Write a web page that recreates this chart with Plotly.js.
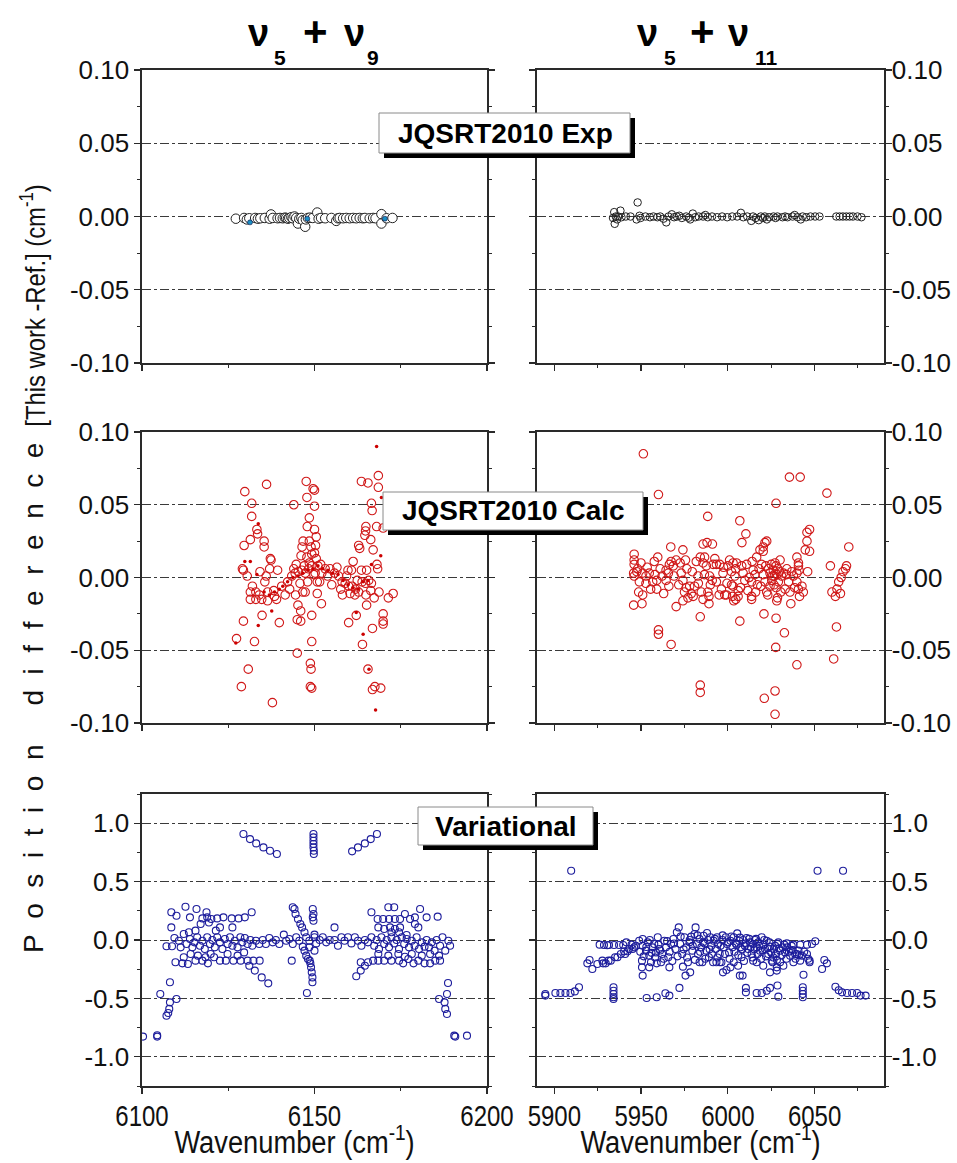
<!DOCTYPE html>
<html>
<head>
<meta charset="utf-8">
<script src="https://cdn.plot.ly/plotly-3.0.1.min.js"></script>
<style>html,body{margin:0;padding:0;background:#fff;}</style>
</head>
<body>
<div id="chart" style="width:957px;height:1163px;"></div>
<script>
// ---------------- DATA (wavenumber cm-1, difference cm-1) ----------------
const expLeft = [[6127.2,-0.0015],[6129.6,-0.001],[6130.4,-0.002],[6131.1,-0.0012],[6132.8,-0.001],[6133.6,-0.0015],[6134.3,-0.0012],[6135.6,-0.001],[6137.0,-0.0015],[6137.4,0.0014],[6137.9,-0.001],[6139.3,-0.0012],[6140.0,-0.001],[6140.8,-0.0012],[6141.4,-0.0008],[6141.8,-0.001],[6142.3,-0.0015],[6142.7,-0.001],[6143.3,-0.0005],[6143.7,-0.0012],[6144.2,0.0],[6144.7,-0.001],[6145.2,-0.0048],[6145.6,-0.0015],[6146.2,-0.001],[6146.6,-0.0025],[6147.3,-0.007],[6147.5,-0.002],[6148.1,-0.001],[6148.7,-0.0008],[6149.5,-0.001],[6150.8,0.0027],[6151.2,-0.0015],[6151.9,-0.001],[6153.1,-0.0012],[6154.9,-0.001],[6156.3,-0.003],[6156.8,-0.0012],[6157.3,-0.001],[6158.3,-0.0012],[6159.2,-0.001],[6160.2,-0.0012],[6161.2,-0.001],[6162.1,-0.0012],[6163.1,-0.001],[6164.0,-0.0012],[6164.6,-0.001],[6166.0,-0.0012],[6167.0,-0.001],[6167.7,-0.0012],[6169.4,0.0016],[6169.4,-0.0048],[6170.9,-0.0012],[6172.6,-0.001]];
const expLeftBlue = [[6131.3,-0.004],[6147.9,-0.0015],[6170.4,-0.0015]];
const expRight = [[5933.8,-0.001],[5934.5,0.003],[5934.8,-0.005],[5935.4,0.0],[5936.2,-0.002],[5936.8,0.0],[5938.1,0.004],[5938.7,-0.0005],[5941.2,0.0],[5943.9,0.0],[5947.4,-0.002],[5948.0,0.0096],[5949.1,0.0005],[5949.7,-0.001],[5952.5,0.0],[5955.1,-0.0005],[5957.1,0.0],[5959.4,-0.0005],[5961.0,0.0],[5962.9,-0.0015],[5964.5,-0.004],[5965.8,0.0],[5967.7,0.0015],[5969.0,-0.0005],[5970.6,0.0],[5972.0,0.0005],[5973.5,-0.001],[5976.0,0.0],[5977.5,-0.0008],[5978.3,-0.002],[5979.8,0.002],[5981.2,-0.0005],[5983.2,0.0],[5985.7,0.0],[5987.0,0.001],[5988.4,-0.0005],[5990.9,0.0],[5993.8,-0.0005],[5996.7,0.0],[5999.6,-0.0005],[6002.5,0.0],[6005.4,0.0],[6007.5,0.0025],[6008.9,-0.0005],[6011.2,0.0],[6013.5,-0.003],[6014.5,0.0],[6016.1,-0.001],[6017.8,-0.0025],[6019.0,0.0],[6020.2,-0.001],[6021.3,0.0],[6022.5,-0.002],[6023.8,-0.0005],[6026.3,0.0],[6027.5,-0.001],[6028.6,0.0],[6031.5,-0.0005],[6033.0,0.0],[6034.4,-0.0005],[6037.3,0.0],[6038.5,0.001],[6040.2,-0.0005],[6042.0,-0.002],[6043.1,0.0],[6045.1,-0.0005],[6047.6,0.0],[6050.3,0.0],[6052.8,0.0],[6062.5,0.0],[6064.4,0.0],[6066.3,0.0],[6068.3,0.0],[6070.2,0.0],[6072.1,0.0],[6074.7,0.0],[6077.0,-0.0005]];

const calcLeftOpen = [[6129.8,0.059],[6136.1,0.064],[6131.8,0.051],[6131.8,0.042],[6133.3,0.033],[6133.5,0.030],[6131.4,0.026],[6129.6,0.022],[6135.4,0.025],[6135.4,0.021],[6137.2,0.013],[6137.4,0.012],[6129.1,0.006],[6129.4,0.005],[6134.2,0.004],[6135.6,-0.003],[6137.0,0.006],[6139.3,0.005],[6131.4,-0.010],[6131.4,-0.015],[6133.0,-0.010],[6133.0,-0.015],[6134.7,-0.015],[6136.4,-0.016],[6136.4,-0.010],[6138.2,-0.009],[6138.4,-0.013],[6134.8,-0.026],[6129.4,-0.030],[6139.8,-0.031],[6127.4,-0.042],[6132.6,-0.044],[6130.8,-0.063],[6128.8,-0.075],[6137.8,-0.086],
[6141.5,-0.012],[6142.2,-0.003],[6143.4,0.001],[6144.4,0.003],[6145.3,0.004],[6146.3,0.005],[6147.3,0.003],[6148.3,0.006],[6149.2,0.008],[6150.2,0.003],[6150.8,-0.003],[6151.5,-0.003],[6152.1,0.003],[6153.1,0.006],[6154.5,0.006],[6155.8,0.003],[6157.0,0.001],[6158.0,-0.003],[6158.9,-0.004],[6159.9,-0.006],[6160.9,-0.006],[6161.9,-0.008],[6162.8,-0.010],[6163.8,-0.003],[6164.8,-0.004],[6165.7,-0.002],
[6147.6,0.066],[6147.8,0.055],[6149.6,0.061],[6150.0,0.060],[6150.0,0.049],[6144.0,0.050],[6148.5,0.041],[6147.9,0.035],[6148.5,0.025],[6149.0,0.021],[6150.0,0.033],[6150.5,0.028],[6150.3,0.022],[6150.0,0.017],[6149.2,0.016],[6146.7,0.025],[6146.4,0.021],[6146.1,0.015],[6144.7,0.009],[6144.5,-0.012],[6145.2,-0.019],[6146.0,-0.023],[6145.0,-0.029],[6146.0,-0.030],[6149.2,-0.026],[6149.2,-0.044],[6145.0,-0.052],[6148.8,-0.059],[6149.0,-0.063],[6148.8,-0.075],[6149.2,-0.076],[6150.8,-0.011],[6152.0,-0.018],[6147.3,-0.010],[6146.6,-0.010],[6147.8,0.014],[6150.5,0.013],[6148.5,0.010],[6151.0,0.008],
[6163.6,0.066],[6165.5,0.065],[6168.5,0.070],[6168.5,0.062],[6166.5,0.051],[6166.7,0.046],[6164.9,0.035],[6164.8,0.032],[6164.6,0.029],[6166.3,0.026],[6167.0,0.019],[6162.8,0.022],[6163.1,0.020],[6168.0,0.035],[6169.9,0.034],[6161.2,0.011],[6159.7,0.005],[6163.6,0.005],[6165.1,0.005],[6168.1,0.009],[6168.3,0.006],[6168.7,-0.010],[6167.3,-0.014],[6166.5,-0.004],[6164.9,-0.012],[6165.1,-0.019],[6166.3,-0.009],[6171.4,-0.014],[6172.8,-0.011],[6169.9,-0.025],[6169.9,-0.030],[6169.9,-0.032],[6162.1,-0.026],[6159.9,-0.031],[6163.9,-0.046],[6165.5,-0.063],[6166.8,-0.035],[6166.8,-0.077],[6167.5,-0.075],[6169.2,-0.076],[6158.1,-0.012],[6161.7,-0.012],[6160.7,0.005],
[6140.5,-0.006],[6142.8,-0.008],[6144.0,0.006],[6145.8,-0.004],[6147.0,0.008],[6148.0,-0.003],[6149.8,0.002],[6151.8,0.009],[6153.8,0.001],[6155.0,-0.005],[6156.5,0.007],[6157.6,-0.008],[6159.3,0.001],[6160.3,-0.011],[6162.4,-0.002],[6134.0,-0.012],[6132.0,-0.006],[6130.5,0.001],[6136.0,0.001],[6139.0,-0.015]];
const calcLeftDots = [[6168.0,0.090],[6167.7,-0.091],[6169.4,0.055],[6169.2,0.015],[6133.7,0.037],[6129.8,0.011],[6131.4,0.011],[6133.3,0.002],[6137.6,-0.023],[6133.7,-0.033],[6127.2,-0.045],[6164.1,-0.039],[6162.1,-0.024],[6165.8,-0.063],[6166.5,0.009],[6135.4,-0.010],[6136.9,-0.012],[6138.4,-0.010],[6139.8,-0.008],[6140.8,-0.006],[6142.2,-0.003],[6143.7,0.000],[6145.2,0.001],[6146.6,0.003],[6148.1,0.005],[6149.5,0.006],[6151.0,0.008],[6152.4,0.006],[6153.9,0.005],[6155.3,0.003],[6156.8,0.002],[6158.3,-0.002],[6159.7,-0.005],[6161.2,-0.007],[6162.6,-0.008],[6164.1,-0.003],[6165.5,-0.002]];
const calcRight = [[5951.3,0.085],[5960.0,0.057],[6035.5,0.069],[6041.7,0.069],[6057.1,0.058],[6027.8,0.051],[5988.4,0.042],[6006.9,0.039],[6010.4,0.030],[6008.1,0.024],[6047.1,0.033],[6045.6,0.031],[6045.6,0.025],[6044.6,0.019],[6047.1,0.018],[6069.7,0.021],[5967.1,0.021],[5974.1,0.019],[5946.0,0.016],[5946.0,0.012],[5946.0,0.009],[5945.7,0.003],[5946.0,0.001],[5949.9,0.010],[5948.0,0.006],[5950.9,0.003],[5952.8,-0.004],[5952.8,0.001],[5950.9,-0.012],[5948.6,-0.010],[5945.7,-0.019],[5950.5,-0.018],[5959.6,0.014],[5957.6,0.011],[5959.0,-0.002],[5959.0,-0.008],[5960.0,-0.036],[5960.0,-0.039],[5967.3,-0.046],[5964.4,0.005],[5966.3,0.009],[5965.7,0.003],[5964.4,-0.002],[5967.3,0.011],[5970.2,0.012],[5975.6,0.012],[5976.4,0.006],[5974.1,-0.002],[5975.0,-0.010],[5977.0,-0.014],[5970.2,-0.020],[5974.1,-0.016],[5978.9,-0.011],[5980.8,-0.006],[5978.0,-0.006],[5980.0,-0.013],[5984.1,0.014],[5985.7,0.023],[5988.0,0.024],[5991.1,0.023],[5985.7,0.010],[5987.6,0.008],[5989.5,0.001],[5989.9,-0.005],[5989.1,-0.013],[5989.1,-0.018],[5985.7,-0.015],[5984.7,-0.010],[5984.1,-0.027],[5984.1,-0.074],[5984.1,-0.079],[5986.6,0.014],[5991.5,0.009],[5993.4,0.009],[5995.3,0.009],[5997.2,0.003],[5998.2,-0.012],[5999.2,-0.012],[6002.1,0.004],[6003.0,0.010],[6005.0,0.010],[6004.0,0.001],[6003.0,-0.006],[6002.7,-0.013],[6004.6,-0.015],[6005.9,-0.013],[6007.3,-0.007],[6002.1,-0.005],[6003.4,-0.016],[6006.9,-0.030],[6010.8,0.009],[6012.3,0.000],[6013.7,-0.003],[6013.7,-0.013],[6013.7,-0.015],[6014.6,0.005],[6009.8,-0.002],[6016.6,0.014],[6018.5,0.019],[6020.4,0.021],[6021.4,0.024],[6022.4,0.025],[6020.4,0.018],[6019.5,0.009],[6020.4,0.002],[6021.4,-0.003],[6022.4,-0.010],[6020.8,-0.025],[6021.0,-0.083],[6024.3,0.003],[6025.3,-0.002],[6026.2,0.005],[6027.2,0.010],[6027.8,0.008],[6028.2,0.002],[6029.1,-0.003],[6030.1,0.012],[6027.8,-0.007],[6028.6,-0.014],[6028.2,-0.016],[6027.8,-0.028],[6027.6,-0.048],[6027.2,-0.078],[6027.2,-0.094],[6032.0,0.003],[6033.0,-0.008],[6036.3,-0.018],[6032.6,-0.038],[6039.8,0.014],[6040.7,0.010],[6040.7,0.008],[6039.8,0.003],[6039.8,-0.003],[6040.7,-0.008],[6041.3,-0.013],[6039.8,-0.060],[6024.3,-0.006],[6031.0,0.001],[6035.8,-0.010],[6037.8,0.001],[6059.1,0.008],[6060.0,-0.010],[6062.0,-0.013],[6062.9,-0.008],[6063.9,-0.003],[6065.3,0.000],[6066.4,0.004],[6067.8,0.006],[6068.4,0.008],[6062.6,-0.034],[6061.0,-0.056],[5954.7,0.003],[5956.7,-0.003],[5962.1,0.001],[5968.6,0.008],[5971.7,-0.005],[5973.1,0.003],[5981.8,0.011],[5982.8,0.001],[5993.4,-0.003],[5996.3,-0.008],[6000.1,0.008],[6008.8,0.003],[6015.6,0.002],[6017.0,-0.005],[6023.4,0.006],[6025.8,0.001],[6026.6,-0.005],[6029.7,0.004],[6034.0,0.006],[6035.0,-0.003],[6042.7,-0.006],[6064.9,-0.011],
[5947.5,0.004],[5949.0,-0.003],[5953.5,0.007],[5955.5,-0.008],[5958.0,0.002],[5961.0,0.006],[5963.0,-0.011],[5966.0,-0.006],[5969.0,0.001],[5972.5,0.010],[5976.0,-0.007],[5979.5,0.004],[5983.0,-0.004],[5986.5,0.002],[5988.5,-0.010],[5991.0,-0.002],[5992.5,0.013],[5995.0,-0.012],[5997.5,0.007],[5999.5,-0.004],[6001.0,0.012],[6004.5,0.006],[6006.0,-0.009],[6008.0,0.008],[6011.5,-0.009],[6014.0,0.011],[6016.0,-0.010],[6018.0,0.006],[6019.0,-0.006],[6021.8,0.008],[6023.0,-0.012],[6025.0,0.009],[6026.8,0.001],[6028.8,0.006],[6030.5,-0.010],[6033.8,0.002],[6036.8,0.004],[6038.5,-0.007],[6041.0,0.005],[6043.5,-0.010],[6046.0,0.004]];

const varLeft = [[6129.4,0.907],[6131.3,0.864],[6133.1,0.827],[6135.2,0.793],[6137.1,0.764],[6139.1,0.736],[6149.7,0.907],[6149.7,0.879],[6149.7,0.850],[6149.7,0.822],[6149.7,0.793],[6149.8,0.764],[6149.8,0.736],[6160.9,0.759],[6162.6,0.793],[6164.6,0.827],[6166.3,0.864],[6168.1,0.907],
[6100.3,-0.827],[6104.4,-0.827],[6104.4,-0.815],[6105.3,-0.462],[6107.1,-0.648],[6107.6,-0.625],[6107.9,-0.59],[6108.1,-0.534],[6108.1,-0.362],[6110.0,-0.505],[6186.1,-0.505],[6187.7,-0.534],[6187.9,-0.59],[6188.4,-0.633],[6188.4,-0.462],[6188.7,-0.368],[6190.5,-0.819],[6190.8,-0.827],[6194.2,-0.819],
[6108.5,0.108],[6108.5,0.237],[6110.0,0.208],[6112.6,0.285],[6113.9,0.194],[6115.8,0.265],[6117.5,0.185],[6118.7,0.237],[6118.9,0.194],[6120.1,0.18],[6121.8,0.185],[6123.6,0.194],[6126.0,0.185],[6128.0,0.185],[6129.8,0.194],[6131.8,0.237],[6122.6,0.108],[6126.2,0.108],[6119.4,0.15],[6117.0,0.137],[6115.5,0.08],[6113.6,0.066],[6121.4,0.08],
[6109.7,-0.19],[6111.7,-0.2],[6113.3,-0.205],[6115.5,-0.177],[6117.5,-0.177],[6119.1,-0.2],[6120.9,-0.148],[6122.6,-0.177],[6124.3,-0.177],[6126.5,-0.177],[6128.6,-0.177],[6130.6,-0.177],[6132.3,-0.177],[6134.1,-0.177],[6131.1,-0.22],[6132.7,-0.262],[6134.7,-0.32],[6136.6,-0.371],[6116.2,-0.134],[6114.1,-0.12],[6112.1,-0.148],[6118.4,-0.148],[6119.9,-0.12],[6124.8,-0.12],[6127.7,-0.134],[6129.6,-0.106],
[6107.1,-0.054],[6108.7,-0.054],[6109.4,0.017],[6110.7,-0.006],[6111.2,-0.063],[6112.1,0.051],[6112.9,-0.034],[6113.9,0.009],[6114.6,-0.063],[6115.2,-0.02],[6116.0,0.023],[6116.8,-0.049],[6117.5,-0.006],[6118.2,-0.077],[6118.9,0.023],[6119.7,-0.034],[6120.4,0.0],[6121.1,-0.063],[6121.8,0.023],[6122.6,-0.02],[6123.3,-0.077],[6124.0,0.009],[6124.8,-0.034],[6125.5,0.023],[6126.2,-0.049],[6126.9,-0.006],[6127.7,-0.063],[6128.5,0.023],[6129.1,-0.02],[6129.8,0.017],[6130.6,-0.034],[6131.4,0.0],[6132.0,-0.049],[6133.0,-0.006],[6134.0,-0.034],[6135.0,0.0],[6135.9,-0.034],[6136.9,0.017],[6137.9,-0.02],[6138.8,0.0],[6139.8,-0.034],[6141.1,0.046],[6141.8,-0.006],[6142.7,0.009],[6143.7,-0.034],[6144.7,0.023],[6145.6,-0.006],[6146.6,-0.057],[6147.6,0.023],[6148.5,-0.006],[6150.0,0.023],[6150.5,-0.029],[6151.5,0.0],[6152.4,0.023],[6153.4,-0.02],[6154.4,0.0],[6155.8,0.108],[6155.8,0.0],[6156.8,-0.049],[6157.8,0.023],[6158.7,-0.006],[6159.7,0.023],[6160.7,-0.029],[6161.7,0.023],[6162.6,-0.006],[6163.6,-0.049],[6164.6,0.0],[6165.5,-0.02],[6166.5,0.023],[6167.3,-0.049],[6168.0,0.0],[6168.7,-0.077],[6169.4,0.023],[6170.2,-0.034],[6170.9,0.0],[6171.6,-0.063],[6172.3,0.023],[6173.1,-0.029],[6173.8,0.0],[6174.5,-0.077],[6175.3,0.023],[6176.0,-0.034],[6176.7,0.009],[6177.4,-0.063],[6178.2,-0.006],[6179.0,-0.049],[6179.6,0.023],[6180.3,-0.077],[6181.1,-0.02],[6181.9,-0.057],[6182.5,0.0],[6183.2,-0.063],[6184.0,-0.02],[6184.8,-0.091],[6185.4,0.0],[6186.4,-0.049],[6187.1,0.023],[6187.9,-0.091],[6189.3,-0.049],
[6143.7,0.28],[6144.2,0.265],[6144.5,0.223],[6145.2,0.18],[6145.9,0.137],[6146.4,0.108],[6147.1,0.066],[6149.5,0.265],[6149.7,0.223],[6149.5,0.194],[6149.7,0.165],[6150.0,0.046],[6147.6,-0.134],[6148.1,-0.163],[6148.6,-0.177],[6148.8,-0.2],[6149.0,-0.234],[6149.2,-0.277],[6149.4,-0.32],[6149.4,-0.362],[6147.8,-0.454],[6143.4,-0.177],[6147.1,-0.091],[6150.0,-0.091],[6148.5,-0.063],
[6166.5,0.237],[6168.3,0.18],[6169.9,0.18],[6171.4,0.28],[6173.1,0.28],[6171.6,0.18],[6173.3,0.18],[6174.8,0.18],[6176.2,0.223],[6177.7,0.18],[6179.1,0.194],[6180.6,0.265],[6182.5,0.194],[6185.7,0.2],[6168.5,0.108],[6170.2,0.094],[6171.9,0.108],[6173.3,0.094],[6174.8,0.108],[6176.7,0.043],[6179.1,0.137],[6180.1,0.108],[6174.5,0.066],[6172.3,0.066],
[6162.1,-0.311],[6163.4,-0.262],[6164.6,-0.22],[6165.5,-0.191],[6163.4,-0.191],[6167.0,-0.177],[6168.5,-0.177],[6170.2,-0.177],[6172.3,-0.177],[6174.5,-0.177],[6175.7,-0.2],[6177.2,-0.163],[6178.7,-0.2],[6180.1,-0.177],[6181.9,-0.2],[6183.5,-0.2],[6185.0,-0.177],[6186.4,-0.177],[6168.5,-0.12],[6171.4,-0.134],[6174.3,-0.12],[6176.2,-0.143],[6178.2,-0.12],[6181.1,-0.134],[6183.5,-0.12],[6188.8,-0.006],[6186.1,-0.134]];

const varRight = [[5909.7,0.593],[6051.7,0.593],[6066.4,0.593],
[5894.8,-0.462],[5894.8,-0.476],[5900.6,-0.454],[5903.5,-0.454],[5906.4,-0.454],[5909.3,-0.454],[5911.8,-0.44],[5914.2,-0.405],
[5934.1,-0.405],[5934.1,-0.434],[5934.1,-0.462],[5934.1,-0.49],[5934.1,-0.505],
[5953.2,-0.497],[5959.0,-0.49],[5964.0,-0.456],[5966.3,-0.476],[5972.1,-0.41],
[6010.4,-0.41],[6010.4,-0.448],[6016.6,-0.454],[6019.5,-0.454],[6022.4,-0.434],[6024.3,-0.41],[6028.6,-0.39],[6029.1,-0.485],
[6043.2,-0.405],[6043.2,-0.434],[6043.2,-0.462],[6043.2,-0.49],
[6062.0,-0.4],[6063.9,-0.43],[6065.8,-0.448],[6068.7,-0.454],[6071.6,-0.454],[6074.5,-0.454],[6076.5,-0.476],[6079.4,-0.476],
[5919.0,-0.2],[5920.3,-0.171],[5921.9,-0.248],[5928.1,-0.2],[5931.2,-0.177],[5935.0,-0.148],[5938.3,-0.12],[5940.2,-0.097],[5943.1,-0.077],[5946.0,-0.063],[5950.5,-0.177],[5950.5,-0.234],[5950.9,-0.305],[5954.7,-0.234],[5959.0,-0.2],[5975.6,-0.305],
[6054.3,-0.248],[6055.6,-0.171],[6057.1,-0.2],[6043.6,-0.297],[6041.7,-0.177],[6047.1,-0.191],[6039.8,-0.12],[6036.3,-0.091],[6006.9,-0.305],[6008.5,-0.305],[6028.2,-0.234],[6028.2,-0.262],[6024.3,-0.277],[6025.8,-0.191],[6020.4,-0.22],[5997.2,-0.277],[5999.2,-0.257],[6001.5,-0.234],[6003.4,-0.191],
[5926.1,-0.04],[5928.6,-0.043],[5931.5,-0.043],[5934.4,-0.043],[5937.3,-0.043],[5939.7,-0.043],
[6029.1,-0.02],[6034.0,-0.029],[6037.8,-0.04],[6041.7,-0.04],[6045.6,-0.04],[6048.5,-0.034],[6050.4,-0.011],
[5948.9,-0.006],[5950.9,-0.049],[5952.8,-0.091],[5954.7,-0.134],[5955.7,-0.191],[5957.6,-0.034],[5959.6,0.023],[5960.5,-0.077],[5962.1,-0.12],[5963.4,-0.006],[5964.4,-0.063],[5965.7,-0.148],[5967.3,-0.034],[5968.6,0.009],[5969.8,-0.077],[5970.6,0.066],[5971.7,0.108],[5972.5,-0.034],[5973.7,-0.12],[5975.0,0.023],[5976.0,-0.063],[5977.0,-0.191],[5977.9,-0.02],[5978.9,0.029],[5979.5,-0.091],[5980.8,0.051],[5981.4,0.108],[5982.2,-0.034],[5982.8,-0.12],[5983.7,0.009],[5984.7,-0.063],[5985.3,-0.191],[5986.0,0.037],[5986.6,-0.029],[5987.6,-0.091],[5988.6,0.0],[5989.1,-0.148],[5989.9,0.023],[5990.5,-0.049],[5991.5,-0.191],[5991.8,-0.006],[5993.0,-0.077],[5993.8,0.023],[5994.3,-0.034],[5995.3,-0.12],[5996.3,-0.191],[5996.9,0.0],[5997.6,-0.063],[5998.8,0.023],[5999.6,-0.034],[6000.7,-0.106],[6001.5,-0.006],[6002.7,-0.063],[6003.4,0.023],[6004.6,-0.029],[6005.4,0.057],[6006.5,-0.006],[6007.3,-0.063],[6007.9,-0.148],[6008.8,0.0],[6009.8,-0.049],[6010.8,0.017],[6011.7,-0.077],[6012.7,-0.02],[6013.7,-0.12],[6014.6,-0.034],[6015.6,0.0],[6016.6,-0.063],[6017.5,-0.02],[6018.5,-0.091],[6019.5,0.023],[6020.4,-0.04],[6021.4,-0.077],[6022.4,-0.006],[6023.3,-0.12],[6024.3,-0.057],[6025.3,-0.177],[6026.6,-0.077],[6027.8,-0.12],[6028.6,-0.034],[6030.1,-0.091],[6031.6,-0.063],[6033.0,-0.106],[6034.3,-0.063],[6035.9,-0.134],[6037.4,-0.086],[6038.8,-0.12],[6040.7,-0.091],[6042.7,-0.134],[6045.6,-0.12],[6047.1,-0.177],[5947.0,-0.049],[5945.1,-0.077],[5942.2,-0.097],[5940.8,-0.12],[5936.4,-0.148],[5932.5,-0.177],[5929.6,-0.2],[5927.7,-0.177],[5924.8,-0.205],[5950.9,0.009],[5953.8,-0.02],[5956.7,-0.063],[5958.6,-0.106],[5961.5,-0.191],[5966.3,-0.234],[5974.1,-0.228],[5978.3,-0.277],[5983.7,-0.191],[5993.4,-0.191],[5995.3,-0.191],[6005.9,-0.22],[6014.6,-0.177],[6016.6,-0.191],[6030.1,-0.191],[6032.0,-0.22],[6037.8,-0.191],
[5930.5,-0.045],[5941.5,-0.02],[5944.5,-0.04],[5949.5,-0.1],[5951.5,-0.14],[5953.0,-0.06],[5955.0,0.0],[5956.0,-0.11],[5958.0,-0.15],[5960.0,-0.04],[5961.0,-0.09],[5963.0,-0.16],[5965.0,-0.01],[5966.5,-0.1],[5968.0,-0.18],[5969.0,-0.03],[5971.0,-0.14],[5972.8,0.03],[5974.5,-0.08],[5976.5,-0.15],[5978.0,0.0],[5979.8,-0.05],[5981.0,-0.17],[5982.5,0.04],[5984.0,-0.1],[5985.8,-0.02],[5987.0,-0.16],[5988.0,0.06],[5989.5,-0.08],[5990.8,-0.12],[5992.5,0.01],[5994.0,-0.15],[5995.8,-0.05],[5997.0,0.04],[5998.3,-0.12],[6000.0,-0.02],[6001.0,-0.16],[6002.0,0.03],[6003.8,-0.1],[6005.0,-0.04],[6006.0,-0.13],[6007.0,0.02],[6008.2,-0.08],[6009.3,-0.18],[6010.2,-0.03],[6011.2,-0.11],[6012.3,0.01],[6013.2,-0.06],[6014.2,-0.15],[6015.2,-0.08],[6016.2,0.01],[6017.2,-0.12],[6018.2,-0.05],[6019.2,-0.16],[6020.0,-0.09],[6021.0,0.0],[6022.0,-0.14],[6023.0,-0.07],[6024.0,-0.02],[6025.0,-0.11],[6026.2,-0.15],[6027.3,-0.05],[6028.3,-0.17],[6029.5,-0.07],[6031.0,-0.13],[6032.5,-0.04],[6033.8,-0.16],[6035.2,-0.1],[6036.8,-0.05],[6039.0,-0.16],[6041.0,-0.13],[6044.0,-0.1],[6046.3,-0.16]];

// tick labels
const diffTickVals = [-0.10,-0.05,0,0.05,0.10];
const diffTickText = ['-0.10','-0.05','0.00','0.05','0.10'];
const varTickVals = [-1.0,-0.5,0,0.5,1.0];
const varTickText = ['-1.0','-0.5','0.0','0.5','1.0'];
const leftXTicks = [6100,6150,6200];
const rightXTicks = [5900,5950,6000,6050];
const panelTitles = ['JQSRT2010 Exp','JQSRT2010 Calc','Variational'];

// ---------------- LAYOUT ----------------
const W = 957, H = 1163;
const X = p => p / W;
const Y = p => 1 - p / H;
const SANS = 'Liberation Sans, Arial, sans-serif';
const AX = '#2a2a2a';

const xDomL = [X(142), X(487)], xDomR = [X(537), X(884)];
const yDomT = [Y(363), Y(70)], yDomM = [Y(723), Y(432)], yDomB = [Y(1086), Y(794)];

function xAxis(dom, range, ticks, anchor, labels, minor0) {
  return {
    domain: dom, range: range, anchor: anchor,
    tickmode: 'array', tickvals: ticks, ticktext: ticks.map(String),
    showticklabels: labels, ticks: 'outside', ticklen: 6, tickwidth: 1.3, tickcolor: AX,
    minor: {dtick: 25, tick0: minor0, ticks: 'outside', ticklen: 3.5, tickwidth: 1, tickcolor: AX, showgrid: false},
    showline: true, linecolor: AX, linewidth: 1.6, mirror: true,
    showgrid: false, zeroline: false, ticklabelstandoff: -4,
    tickfont: {family: SANS, size: 30, color: '#111'}
  };
}
function yAxis(dom, range, vals, text, minorStep, anchor, side) {
  return {
    domain: dom, range: range, anchor: anchor, side: side,
    tickmode: 'array', tickvals: vals, ticktext: text,
    ticks: 'outside', ticklen: 6, tickwidth: 1.3, tickcolor: AX,
    minor: {dtick: minorStep, tick0: 0, ticks: 'outside', ticklen: 3.5, tickwidth: 1, tickcolor: AX, showgrid: false},
    showline: true, linecolor: AX, linewidth: 1.6, mirror: 'ticks',
    showgrid: true, gridcolor: '#3a3a3a', gridwidth: 1, griddash: 'dashdot',
    zeroline: false, ticklabelstandoff: side === 'right' ? -5 : 0,
    tickfont: {family: SANS, size: 26, color: '#111'}
  };
}

const pairsX = a => a.map(d => d[0]);
const pairsY = a => a.map(d => d[1]);
function sc(a, xa, ya, marker) {
  return {type: 'scatter', mode: 'markers', x: pairsX(a), y: pairsY(a), xaxis: xa, yaxis: ya, marker: marker, hoverinfo: 'skip'};
}
const red = '#d01818', blue = '#1d1d9c';
const traces = [
  sc(expLeft, 'x', 'y', {symbol: 'circle', size: 9.5, color: '#ffffff', line: {color: '#222', width: 1}}),
  sc(expLeftBlue, 'x', 'y', {symbol: 'circle', size: 5, color: '#1b8fc4', line: {color: '#114', width: 0.6}}),
  sc(expRight, 'x2', 'y2', {symbol: 'circle-open', size: 7.5, color: '#222', line: {width: 1}}),
  sc(calcLeftOpen, 'x3', 'y3', {symbol: 'circle-open', size: 8.5, color: red, line: {width: 1.1}}),
  sc(calcLeftDots, 'x3', 'y3', {symbol: 'circle', size: 3.5, color: '#cc0000'}),
  sc(calcRight, 'x4', 'y4', {symbol: 'circle-open', size: 8.5, color: red, line: {width: 1.1}}),
  sc(varLeft, 'x5', 'y5', {symbol: 'circle-open', size: 7, color: blue, line: {width: 1.1}}),
  sc(varRight, 'x6', 'y6', {symbol: 'circle-open', size: 7, color: blue, line: {width: 1.1}})
];

// label boxes (pixel geometry)
const boxes = [
  {x0: 379, y0: 113, x1: 630, y1: 153, cx: 505, cy: 133},
  {x0: 383, y0: 492, x1: 643, y1: 530, cx: 513, cy: 511},
  {x0: 418, y0: 807, x1: 593, y1: 845, cx: 505.5, cy: 826}
];
const shapes = [];
const annotations = [];
boxes.forEach((b, i) => {
  shapes.push({type: 'rect', xref: 'paper', yref: 'paper', layer: 'above',
    x0: X(b.x0 + 5), x1: X(b.x1 + 5), y0: Y(b.y0 + 5), y1: Y(b.y1 + 5),
    fillcolor: '#000', line: {width: 0}});
  shapes.push({type: 'rect', xref: 'paper', yref: 'paper', layer: 'above',
    x0: X(b.x0), x1: X(b.x1), y0: Y(b.y0), y1: Y(b.y1),
    fillcolor: '#fff', line: {color: '#8a8a8a', width: 1}});
  annotations.push({xref: 'paper', yref: 'paper', x: X(b.cx), y: Y(b.cy), xanchor: 'center', yanchor: 'middle',
    text: '<b>' + panelTitles[i] + '</b>', showarrow: false, font: {family: SANS, size: 28, color: '#000'}});
});

// column titles ν5 + ν9 and ν5 + ν11 (glyph pieces placed individually)
function glyph(txt, cx, cy, size) {
  annotations.push({xref: 'paper', yref: 'paper', x: X(cx), y: Y(cy), xanchor: 'center', yanchor: 'middle',
    text: '<b>' + txt + '</b>', showarrow: false, font: {family: SANS, size: size, color: '#000'}});
}
glyph('ν', 258, 33, 38); glyph('5', 280, 57, 21); glyph('+', 315, 31, 42); glyph('ν', 354, 33, 38); glyph('9', 373, 57, 21);
glyph('ν', 647, 33, 38); glyph('5', 670, 57, 21); glyph('+', 702, 31, 42); glyph('ν', 738, 33, 38); glyph('11', 766, 57, 21);

// axis titles
const spaced = s => s.split(' ').map(w => w.split('').join('\u00a0\u00a0')).join('\u00a0\u00a0\u00a0\u00a0\u00a0');
annotations.push({xref: 'paper', yref: 'paper', x: X(33), y: Y(698), xanchor: 'center', yanchor: 'middle', textangle: -90,
  text: spaced('Position difference'), showarrow: false, font: {family: SANS, size: 28, color: '#111'}});
annotations.push({xref: 'paper', yref: 'paper', x: X(33), y: Y(306), xanchor: 'center', yanchor: 'middle', textangle: -90,
  text: '[This work -Ref.] (cm<sup>-1</sup>)', showarrow: false, font: {family: SANS, size: 28, color: '#111'}});
annotations.push({xref: 'paper', yref: 'paper', x: X(294), y: Y(1162), xanchor: 'center', yanchor: 'bottom',
  text: 'Wavenumber (cm<sup>-1</sup>)', showarrow: false, font: {family: SANS, size: 31, color: '#111'}});
annotations.push({xref: 'paper', yref: 'paper', x: X(700), y: Y(1162), xanchor: 'center', yanchor: 'bottom',
  text: 'Wavenumber (cm<sup>-1</sup>)', showarrow: false, font: {family: SANS, size: 31, color: '#111'}});

const layout = {
  width: W, height: H, margin: {l: 0, r: 0, t: 0, b: 0},
  paper_bgcolor: '#fff', plot_bgcolor: '#fff', showlegend: false,
  xaxis:  xAxis(xDomL, [6100, 6200], leftXTicks, 'y', false, 6100),
  xaxis2: xAxis(xDomR, [5890, 6090], rightXTicks, 'y2', false, 5900),
  xaxis3: xAxis(xDomL, [6100, 6200], leftXTicks, 'y3', false, 6100),
  xaxis4: xAxis(xDomR, [5890, 6090], rightXTicks, 'y4', false, 5900),
  xaxis5: xAxis(xDomL, [6100, 6200], leftXTicks, 'y5', true, 6100),
  xaxis6: xAxis(xDomR, [5890, 6090], rightXTicks, 'y6', true, 5900),
  yaxis:  yAxis(yDomT, [-0.1, 0.1], diffTickVals, diffTickText, 0.025, 'x', 'left'),
  yaxis2: yAxis(yDomT, [-0.1, 0.1], diffTickVals, diffTickText, 0.025, 'x2', 'right'),
  yaxis3: yAxis(yDomM, [-0.1, 0.1], diffTickVals, diffTickText, 0.025, 'x3', 'left'),
  yaxis4: yAxis(yDomM, [-0.1, 0.1], diffTickVals, diffTickText, 0.025, 'x4', 'right'),
  yaxis5: yAxis(yDomB, [-1.25, 1.25], varTickVals, varTickText, 0.25, 'x5', 'left'),
  yaxis6: yAxis(yDomB, [-1.25, 1.25], varTickVals, varTickText, 0.25, 'x6', 'right'),
  shapes: shapes, annotations: annotations
};

// condensed look of the narrow texts: compress glyphs horizontally (text stays real text)
function squeeze(el, factor) {
  const w = el.getComputedTextLength();
  if (w > 0) { el.setAttribute('textLength', (w * factor).toFixed(1)); el.setAttribute('lengthAdjust', 'spacingAndGlyphs'); }
}
Plotly.newPlot('chart', traces, layout, {staticPlot: true, displayModeBar: false}).then(() => {
  document.querySelectorAll('g.x5tick text, g.x6tick text').forEach(t => squeeze(t, 0.8));
  document.querySelectorAll('g.annotation text').forEach(t => {
    const s = t.textContent;
    if (s.indexOf('Wavenumber') >= 0) squeeze(t, 0.88);
    if (s.indexOf('This work') >= 0) squeeze(t, 0.85);
  });
});
</script>
</body>
</html>
